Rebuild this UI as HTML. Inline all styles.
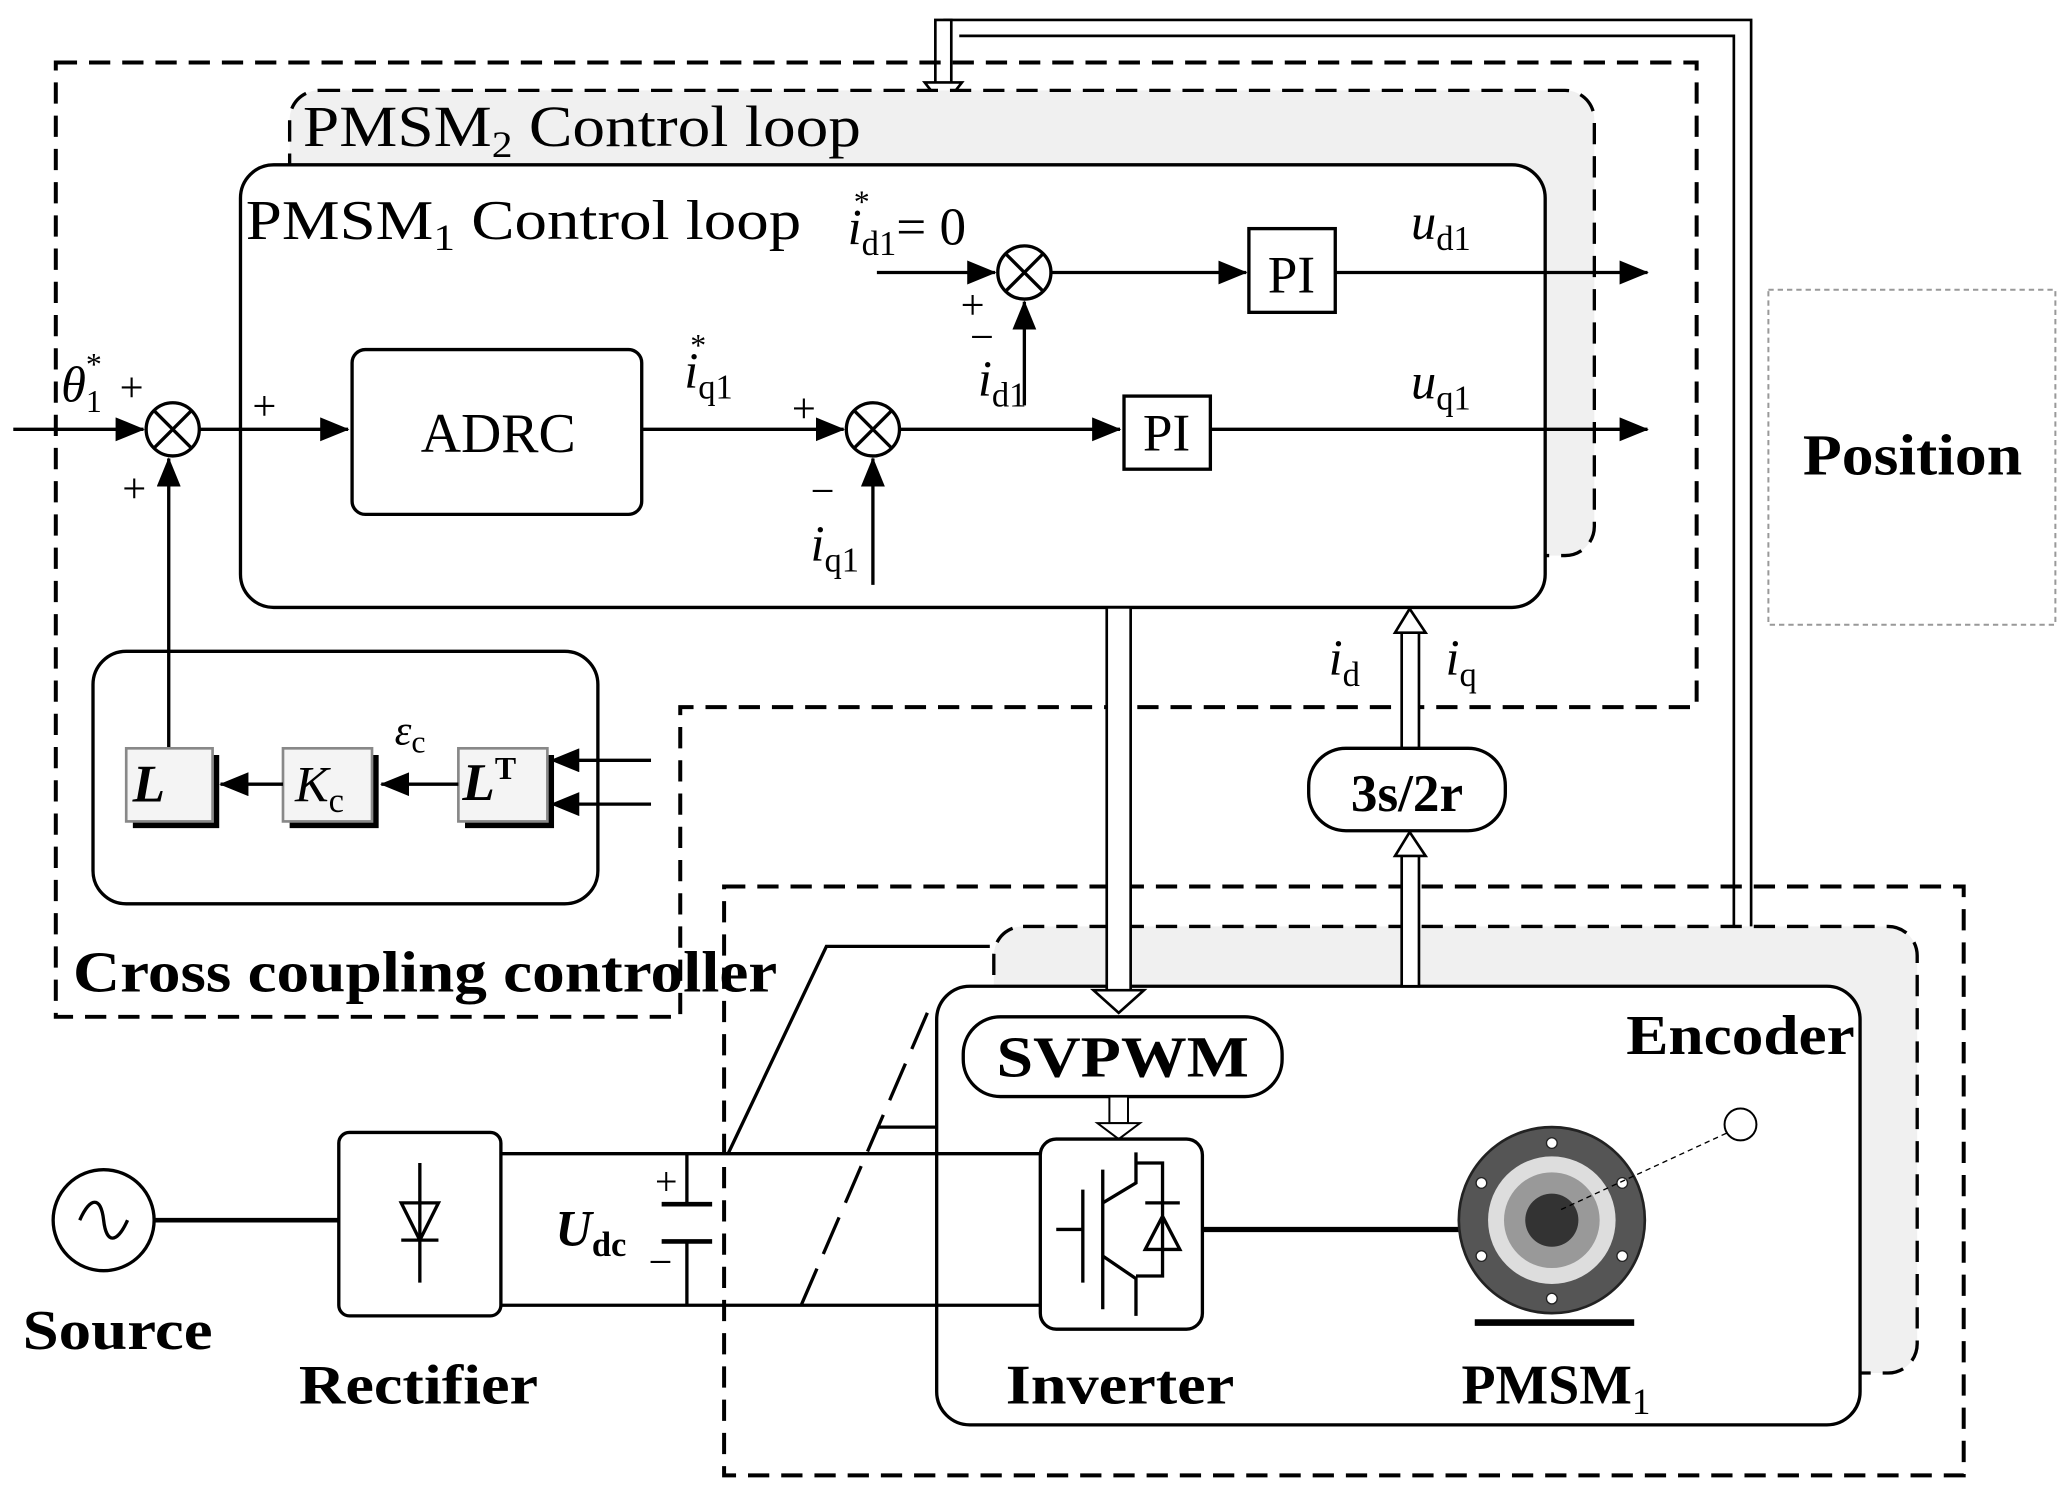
<!DOCTYPE html>
<html><head><meta charset="utf-8"><style>html,body{margin:0;padding:0;background:#fff}svg{display:block}</style></head>
<body>
<svg width="2066" height="1486" viewBox="0 0 1555 1118" preserveAspectRatio="none" xmlns="http://www.w3.org/2000/svg" font-family="Liberation Serif, serif">
<defs>
<marker id="b" markerWidth="22" markerHeight="18" refX="21" refY="9" orient="auto" markerUnits="userSpaceOnUse"><path d="M0,0 L22,9 L0,18 z" fill="#000"/></marker>
</defs>
<rect width="1555" height="1118" fill="#fff"/>
<path d="M710,15 H1318 V742 M722,27 H1305 V742" fill="none" stroke="#000" stroke-width="2"/>
<rect x="704" y="15" width="12" height="48" fill="#fff" stroke="#000" stroke-width="2"/>
<path d="M696,62 L724,62 L710,80 z" fill="#fff" stroke="#000" stroke-width="2"/>
<path d="M42,47 H1277 V532 H512 V765 H42 Z" fill="none" stroke="#000" stroke-width="3" stroke-dasharray="16,9"/>
<rect x="218" y="68" width="982" height="350" rx="22" fill="#f0f0f0" stroke="#000" stroke-width="2.5" stroke-dasharray="16,9"/>
<text x="228" y="110" font-size="44" textLength="420" lengthAdjust="spacingAndGlyphs">PMSM<tspan font-size="28" dy="8">2</tspan><tspan dy="-8"> Control loop</tspan></text>
<rect x="181" y="124" width="982" height="333" rx="25" fill="#fff" stroke="#000" stroke-width="2.5"/>
<text x="185" y="180" font-size="42" textLength="418" lengthAdjust="spacingAndGlyphs">PMSM<tspan font-size="28" dy="8">1</tspan><tspan dy="-8"> Control loop</tspan></text>
<rect x="1331" y="218" width="216" height="252" fill="none" stroke="#999" stroke-width="1.5" stroke-dasharray="4,3"/>
<text x="1357" y="357" font-size="44" font-weight="bold" textLength="165" lengthAdjust="spacingAndGlyphs">Position</text>
<g stroke="#000" stroke-width="2.5" fill="none">
<line x1="10" y1="323" x2="108" y2="323" marker-end="url(#b)"/>
<circle cx="130" cy="323" r="20"/>
<path d="M116,309 L144,337 M144,309 L116,337"/>
<line x1="150" y1="323" x2="262" y2="323" marker-end="url(#b)"/>
<rect x="265" y="263" width="218" height="124" rx="10"/>
<line x1="483" y1="323" x2="635" y2="323" marker-end="url(#b)"/>
<circle cx="657" cy="323" r="20"/>
<path d="M643,309 L671,337 M671,309 L643,337"/>
<line x1="657" y1="440" x2="657" y2="345" marker-end="url(#b)"/>
<line x1="677" y1="323" x2="843" y2="323" marker-end="url(#b)"/>
<rect x="846" y="298" width="65" height="55"/>
<line x1="911" y1="323" x2="1240" y2="323" marker-end="url(#b)"/>
<line x1="660" y1="205" x2="749" y2="205" marker-end="url(#b)"/>
<circle cx="771" cy="205" r="20"/>
<path d="M757,191 L785,219 M785,191 L757,219"/>
<line x1="771" y1="305" x2="771" y2="227" marker-end="url(#b)"/>
<line x1="791" y1="205" x2="938" y2="205" marker-end="url(#b)"/>
<rect x="940" y="172" width="65" height="63"/>
<line x1="1005" y1="205" x2="1240" y2="205" marker-end="url(#b)"/>
<rect x="70" y="490" width="380" height="190" rx="25"/>
<line x1="127" y1="563" x2="127" y2="345" marker-end="url(#b)"/>
</g>
<g stroke-width="2">
<path d="M100,568 H165 V623 H100" fill="#000"/>
<rect x="95" y="563" width="65" height="55" fill="#f4f4f4" stroke="#888"/>
<path d="M218,568 H285 V623 H218" fill="#000"/>
<rect x="213" y="563" width="67" height="55" fill="#f4f4f4" stroke="#888"/>
<path d="M350,568 H417 V623 H350" fill="#000"/>
<rect x="345" y="563" width="67" height="55" fill="#f4f4f4" stroke="#888"/>
</g>
<g stroke="#000" stroke-width="2.5">
<line x1="213" y1="590" x2="166" y2="590" marker-end="url(#b)"/>
<line x1="345" y1="590" x2="287" y2="590" marker-end="url(#b)"/>
<line x1="490" y1="572" x2="415" y2="572" marker-end="url(#b)"/>
<line x1="490" y1="605" x2="415" y2="605" marker-end="url(#b)"/>
</g>
<g font-style="italic">
<text x="112" y="603" font-size="40" font-weight="bold" text-anchor="middle">L</text>
<text x="222" y="603" font-size="38">K<tspan font-style="normal" font-size="26" dy="8">c</tspan></text>
<text x="348" y="602" font-size="40" font-weight="bold">L<tspan font-style="normal" font-size="24" dy="-16">T</tspan></text>
<text x="297" y="560" font-size="32">ε<tspan font-style="normal" font-size="24" dy="6">c</tspan></text>
<text x="46" y="302" font-size="38">θ<tspan font-style="normal" font-size="24" dy="8">1</tspan><tspan font-style="normal" font-size="24" dx="-12" dy="-28">*</tspan></text>
<text x="515" y="292" font-size="38">i<tspan font-style="normal" font-size="26" dy="8">q1</tspan><tspan font-style="normal" font-size="24" dx="-32" dy="-32">*</tspan></text>
<text x="610" y="422" font-size="38">i<tspan font-style="normal" font-size="26" dy="8">q1</tspan></text>
<text x="638" y="184" font-size="38">i<tspan font-style="normal" font-size="26" dy="8">d1</tspan><tspan font-style="normal" font-size="24" dx="-32" dy="-32">*</tspan><tspan font-style="normal" font-size="40" dx="20" dy="24">= 0</tspan></text>
<text x="736" y="298" font-size="38">i<tspan font-style="normal" font-size="26" dy="8">d1</tspan></text>
<text x="1062" y="180" font-size="38">u<tspan font-style="normal" font-size="26" dy="8">d1</tspan></text>
<text x="1062" y="300" font-size="38">u<tspan font-style="normal" font-size="26" dy="8">q1</tspan></text>
<text x="1000" y="508" font-size="38">i<tspan font-style="normal" font-size="26" dy="8">d</tspan></text>
<text x="1088" y="508" font-size="38">i<tspan font-style="normal" font-size="26" dy="8">q</tspan></text>
<text x="1073" y="728" font-size="26">i<tspan font-style="normal" font-size="18" dy="6">s</tspan></text>
<text x="418" y="937" font-size="38" font-weight="bold">U<tspan font-style="normal" font-size="26" dy="8">dc</tspan></text>
</g>
<g font-size="32">
<text x="90" y="302">+</text><text x="92" y="378">+</text><text x="190" y="316">+</text>
<text x="596" y="318">+</text><text x="610" y="380">−</text>
<text x="723" y="240">+</text><text x="730" y="264">−</text>
</g>
<text x="375" y="340" font-size="42" text-anchor="middle">ADRC</text>
<text x="878" y="339" font-size="40" text-anchor="middle">PI</text>
<text x="972" y="220" font-size="40" text-anchor="middle">PI</text>
<text x="55" y="746" font-size="44" font-weight="bold" textLength="530" lengthAdjust="spacingAndGlyphs">Cross coupling controller</text>
<rect x="545" y="667" width="933" height="443" fill="none" stroke="#000" stroke-width="3" stroke-dasharray="16,9"/>
<rect x="748" y="697" width="695" height="336" rx="22" fill="#f0f0f0" stroke="#000" stroke-width="2.5" stroke-dasharray="16,9"/>
<rect x="705" y="742" width="695" height="330" rx="25" fill="#fff" stroke="#000" stroke-width="2.5"/>
<rect x="833" y="457" width="18" height="290" fill="#fff" stroke="#000" stroke-width="2"/>
<path d="M823,745 L861,745 L842,762 z" fill="#fff" stroke="#000" stroke-width="2"/>
<rect x="1055" y="475" width="13" height="88" fill="#fff" stroke="#000" stroke-width="2"/>
<path d="M1050,476 L1073,476 L1061,458 z" fill="#fff" stroke="#000" stroke-width="2"/>
<rect x="1055" y="643" width="13" height="99" fill="#fff" stroke="#000" stroke-width="2"/>
<path d="M1050,644 L1073,644 L1061,626 z" fill="#fff" stroke="#000" stroke-width="2"/>
<rect x="985" y="563" width="148" height="62" rx="28" fill="#fff" stroke="#000" stroke-width="2.5"/>
<text x="1059" y="610" font-size="40" font-weight="bold" text-anchor="middle">3s/2r</text>
<rect x="725" y="765" width="240" height="60" rx="28" fill="#fff" stroke="#000" stroke-width="2.5"/>
<text x="750" y="810" font-size="44" font-weight="bold" textLength="190" lengthAdjust="spacingAndGlyphs">SVPWM</text>
<rect x="835" y="825" width="14" height="20" fill="#fff" stroke="#000" stroke-width="1.5"/>
<path d="M826,845 L858,845 L842,857 z" fill="#fff" stroke="#000" stroke-width="1.5"/>
<text x="1224" y="793" font-size="42" font-weight="bold" textLength="172" lengthAdjust="spacingAndGlyphs">Encoder</text>
<g stroke="#000" stroke-width="2.5" fill="none">
<circle cx="78" cy="918" r="38"/>
<path d="M60,918 C68,900 76,900 78,918 C80,936 88,936 96,918"/>
<line x1="116" y1="918" x2="255" y2="918" stroke-width="3.5"/>
<rect x="255" y="852" width="122" height="138" rx="8"/>
<line x1="316" y1="875" x2="316" y2="965"/>
<path d="M302,933 L330,933 M302,905 L330,905 L316,933 Z"/>
<line x1="377" y1="868" x2="783" y2="868"/>
<line x1="377" y1="982" x2="783" y2="982"/>
<line x1="517" y1="868" x2="517" y2="906"/><line x1="517" y1="934" x2="517" y2="982"/>
<line x1="498" y1="906" x2="536" y2="906" stroke-width="3.5"/><line x1="498" y1="934" x2="536" y2="934" stroke-width="3.5"/>
<path d="M548,868 L622,712 H745"/>
<path d="M603,982 L698,762" stroke-dasharray="30,12"/>
<line x1="660" y1="848" x2="705" y2="848"/>
<rect x="783" y="857" width="122" height="143" rx="12"/>
<path d="M815,895 V965 M830,880 V985 M795,925 H815 M830,905 L855,890 V867 M855,890 V875 H875 V960 H855 M830,945 L855,962 V990 M862,905 H888 M862,940 H888 L875,915 Z"/>
<line x1="905" y1="925" x2="1100" y2="925" stroke-width="4"/>
</g>
<text x="493" y="899" font-size="30">+</text><text x="488" y="960" font-size="32">−</text>
<circle cx="1168" cy="918" r="70" fill="#555" stroke="#222" stroke-width="2"/>
<circle cx="1168" cy="918" r="48" fill="#ddd"/>
<circle cx="1168" cy="918" r="36" fill="#999"/>
<circle cx="1168" cy="918" r="20" fill="#333"/>
<g fill="#fff" stroke="#222"><circle cx="1168" cy="860" r="4"/><circle cx="1168" cy="977" r="4"/><circle cx="1115" cy="890" r="4"/><circle cx="1115" cy="945" r="4"/><circle cx="1221" cy="890" r="4"/><circle cx="1221" cy="945" r="4"/></g>
<line x1="1110" y1="995" x2="1230" y2="995" stroke="#000" stroke-width="5"/>
<line x1="1175" y1="910" x2="1305" y2="850" stroke="#000" stroke-width="1" stroke-dasharray="4,3"/>
<circle cx="1310" cy="846" r="12" fill="#fff" stroke="#000" stroke-width="1.5"/>
<g font-size="42" font-weight="bold">
<text x="17" y="1015" textLength="143" lengthAdjust="spacingAndGlyphs">Source</text>
<text x="225" y="1056" textLength="180" lengthAdjust="spacingAndGlyphs">Rectifier</text>
<text x="757" y="1056" textLength="172" lengthAdjust="spacingAndGlyphs">Inverter</text>
<text x="1100" y="1056">PMSM<tspan font-size="28" font-weight="normal" dy="8">1</tspan></text>
</g>
</svg>
</body></html>
